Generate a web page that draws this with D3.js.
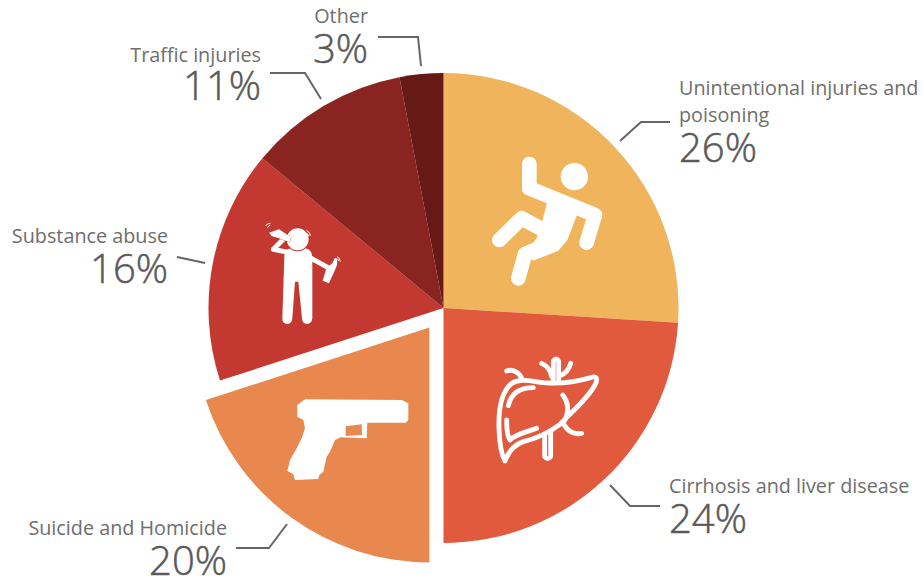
<!DOCTYPE html>
<html>
<head>
<meta charset="utf-8">
<script src="https://cdn.jsdelivr.net/npm/d3@7"></script>
<style>
  html, body { margin: 0; padding: 0; background: #fff; }
  svg { display: block; font-family: "Open Sans", sans-serif; }
</style>
</head>
<body>
<svg id="chart"></svg>
<script>
/* ---------- data ---------- */
const categories = [
  "Unintentional injuries and poisoning",
  "Cirrhosis and liver disease",
  "Suicide and Homicide",
  "Substance abuse",
  "Traffic injuries",
  "Other"
];
const shares = [26, 24, 20, 16, 11, 3];
const colors = ["#f0b45c", "#e15a3e", "#e8884f", "#c33830", "#8a2420", "#671a15"];
const explodedCategory = "Suicide and Homicide";

/* ---------- setup ---------- */
const width = 922, height = 580;
const center = { x: 443.5, y: 308 }, radius = 235, explode = 24;

const svg = d3.select("#chart").attr("width", width).attr("height", height)
  .attr("viewBox", [0, 0, width, height]);

const pie = d3.pie().sort(null).value(d => d.share);
const arc = d3.arc().innerRadius(0).outerRadius(radius);
const color = d3.scaleOrdinal().domain(categories).range(colors);

const rows = categories.map((name, i) => ({ name, share: shares[i] }));

/* label placement, in page pixels */
const labelLayout = {
  "Unintentional injuries and poisoning": {
    anchor: "start", x: 679, lines: ["Unintentional injuries and", "poisoning"], nameY: [95, 122], pctY: 162,
    leader: [[670, 122], [641, 122], [620, 141]]
  },
  "Cirrhosis and liver disease": {
    anchor: "start", x: 669, lines: ["Cirrhosis and liver disease"], nameY: [493], pctY: 533,
    leader: [[660, 506], [630, 506], [610, 485]]
  },
  "Suicide and Homicide": {
    anchor: "end", x: 227, lines: ["Suicide and Homicide"], nameY: [535], pctY: 575,
    leader: [[236, 548], [269, 548], [287, 524]]
  },
  "Substance abuse": {
    anchor: "end", x: 168, lines: ["Substance abuse"], nameY: [243], pctY: 283,
    leader: [[177, 257], [205, 263]]
  },
  "Traffic injuries": {
    anchor: "end", x: 261, lines: ["Traffic injuries"], nameY: [62], pctY: 100,
    leader: [[270, 73], [305, 73], [321, 99]]
  },
  "Other": {
    anchor: "end", x: 368, lines: ["Other"], nameY: [23], pctY: 63,
    leader: [[378, 37], [418, 37], [421, 66]]
  }
};

/* ---------- slices ---------- */
svg.append("g").attr("id", "slices")
  .attr("transform", `translate(${center.x},${center.y})`)
  .selectAll("path")
  .data(pie(rows))
  .join("path")
    .attr("d", arc)
    .attr("fill", d => color(d.data.name))
    .attr("transform", d => {
      if (d.data.name !== explodedCategory) return null;
      const mid = (d.startAngle + d.endAngle) / 2;
      return `translate(${explode * Math.sin(mid)},${-explode * Math.cos(mid)})`;
    });

/* ---------- labels ---------- */
const labels = svg.append("g").attr("id", "labels");
const line = d3.line();

rows.forEach(d => {
  const l = labelLayout[d.name];
  l.lines.forEach((txt, i) => {
    labels.append("text")
      .attr("x", l.x).attr("y", l.nameY[i])
      .attr("text-anchor", l.anchor)
      .attr("font-size", 19.8).attr("fill", "#6e6e6e")
      .text(txt);
  });
  labels.append("text")
    .attr("x", l.x).attr("y", l.pctY)
    .attr("text-anchor", l.anchor)
    .attr("font-size", 40).attr("font-weight", 300).attr("fill", "#5a5a5a")
    .attr("stroke", "#5a5a5a").attr("stroke-width", 0.5)
    .text(d.share + "%");
  labels.append("path")
    .attr("d", line(l.leader))
    .attr("fill", "none").attr("stroke", "#666").attr("stroke-width", 2);
});

/* ---------- icons (traced at 3x, so scaled down) ---------- */
const icons = svg.append("g").attr("id", "icons");

// falling man
const fall = icons.append("g").attr("transform", "translate(470,140) scale(0.3333)");
fall.append("circle").attr("cx", 313).attr("cy", 110).attr("r", 41).attr("fill", "#fff");
fall.append("path")
  .attr("d", "M178 72V145L375 225L350 308M88 300L155 235L225 272M145 415L165 342L255 305")
  .attr("fill", "none").attr("stroke", "#fff").attr("stroke-width", 44)
  .attr("stroke-linecap", "round").attr("stroke-linejoin", "round");
fall.append("path").attr("d", "M232 185L322 222L292 300L265 332L190 362L165 340L200 295L215 250Z").attr("fill", "#fff");

// liver
const liver = icons.append("g").attr("transform", "translate(480,345) scale(0.3333)")
  .attr("fill", "none").attr("stroke", "#fff").attr("stroke-width", 14.5)
  .attr("stroke-linecap", "round").attr("stroke-linejoin", "round");
[
  "M95 115C65 140 55 190 57 250C58 290 65 330 75 348C85 320 100 300 130 290C170 280 200 268 240 238C270 205 320 165 345 120C355 100 350 92 335 97C290 110 240 118 190 113C150 108 120 100 95 115Z",
  "M125 100C120 85 100 70 80 78",
  "M85 182C92 150 115 128 160 128",
  "M80 225C80 250 82 275 90 285C110 265 140 262 170 250",
  "M248 150C265 170 268 195 255 225",
  "M250 235C262 258 280 270 305 265",
  "M194 268V335Q203 347 212 335V262",
  "M220 105V48Q228 36 236 48V110",
  "M215 95C212 75 200 62 185 55",
  "M240 92C258 85 268 70 272 55"
].forEach(p => liver.append("path").attr("d", p));

// pistol
icons.append("path")
  .attr("transform", "translate(280,385) scale(0.3333)")
  .attr("d", "M52 60L75 43L365 45L385 55L385 105L378 113L262 113L260 160L182 157L165 165L150 200L140 215L130 260L118 270L115 282L45 285L40 268L22 258L30 225L50 190L65 160L75 130L70 105L52 95Z M197 124L245 118L246 150L197 153Z")
  .attr("fill", "#fff").attr("fill-rule", "evenodd");

// man drinking
const drink = icons.append("g").attr("transform", "translate(255,210) scale(0.3333)");
drink.append("path")
  .attr("d", "M88 140Q88 118 108 115L150 115Q172 118 172 145L172 325Q170 342 156 342Q142 342 141 325L130 215L120 215L112 325Q110 342 97 342Q82 342 82 325Z")
  .attr("fill", "#fff");
drink.append("path")
  .attr("d", "M105 128L55 118L85 88M165 143L218 172")
  .attr("fill", "none").attr("stroke", "#fff").attr("stroke-width", 15)
  .attr("stroke-linecap", "round").attr("stroke-linejoin", "round");
drink.append("circle").attr("cx", 128).attr("cy", 88).attr("r", 33).attr("fill", "#fff")
  .attr("stroke", "#c33830").attr("stroke-width", 6).attr("paint-order", "stroke");
drink.append("path").attr("d", "M42 68L72 58L108 82L103 96L72 85L50 78Z").attr("fill", "#fff")
  .attr("stroke", "#c33830").attr("stroke-width", 2).attr("paint-order", "stroke");
drink.append("path").attr("d", "M203 212L215 172L232 160L240 143L247 147L246 165L240 180L222 220Z").attr("fill", "#fff");
["M32 48Q36 40 46 40", "M38 53Q40 47 46 46", "M155 62Q166 66 166 78", "M155 70Q160 72 161 78", "M246 140Q254 142 256 155", "M247 146Q250 148 251 153"]
  .forEach(p => drink.append("path").attr("d", p)
    .attr("fill", "none").attr("stroke", "#fff").attr("stroke-width", 3));
</script>
</body>
</html>
